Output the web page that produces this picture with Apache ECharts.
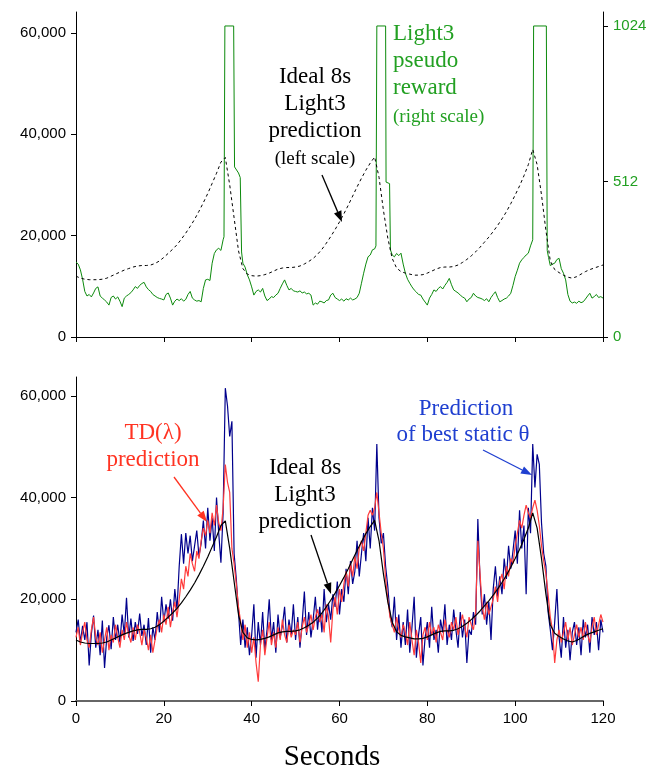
<!DOCTYPE html>
<html>
<head>
<meta charset="utf-8">
<script src="https://cdn.jsdelivr.net/npm/echarts@6.0.0/dist/echarts.min.js"></script>
<style>
  html, body { margin: 0; padding: 0; background: #fff; }
  #chart { width: 655px; height: 770px; }
</style>
</head>
<body>
<div id="chart"></div>
<script>
// values in thousands, one per second (0..120)
const idealK = [
  12.0, 11.6, 11.4, 11.3, 11.3, 11.3, 11.4, 11.6, 12.0, 12.4,
  12.8, 13.2, 13.5, 13.8, 14.0, 14.1, 14.1, 14.2, 14.5, 15.0,
  15.7, 16.5, 17.3, 18.2, 19.3, 20.5, 21.8, 23.2, 24.8, 26.5,
  28.3, 30.3, 32.3, 34.5, 35.4, 30.0, 23.5, 17.0, 13.5, 12.4,
  12.1, 12.0, 12.1, 12.3, 12.6, 13.0, 13.4, 13.6, 13.7, 13.7,
  13.8, 14.0, 14.4, 14.9, 15.5, 16.3, 17.3, 18.5, 19.8, 21.2,
  22.7, 24.3, 26.0, 27.8, 29.6, 31.3, 32.9, 34.3, 35.5, 31.5,
  25.0, 19.5, 15.5, 13.6, 12.9, 12.6, 12.4, 12.2, 12.2, 12.3,
  12.6, 13.0, 13.4, 13.7, 13.8, 13.8, 13.9, 14.2, 14.7, 15.3,
  16.0, 16.8, 17.7, 18.7, 19.7, 20.8, 22.0, 23.3, 24.7, 26.3,
  28.0, 29.8, 31.8, 34.0, 37.0, 34.0, 28.0, 21.0, 15.0, 13.3,
  12.7, 12.2, 11.8, 11.6, 11.9, 12.4, 12.9, 13.3, 13.6, 13.9,
  14.2
];

// values in thousands, every 0.5 s (0..120)
const sampleStep = 0.5;
const bestStaticK = [
  13.5, 16.0, 11.5, 14.8, 12.0, 15.5, 7.0, 13.2, 16.8, 10.5,
  14.0, 9.0, 15.8, 6.5, 12.5, 14.9, 10.2, 16.5, 12.0, 15.0,
  11.5, 17.0, 13.0, 20.3, 12.5, 16.2, 11.8, 15.5, 13.2, 17.2,
  12.8, 15.0, 11.0, 16.3, 9.5, 14.5, 12.0, 17.5, 13.5, 20.5,
  15.5, 19.0, 16.2, 20.0, 15.8, 22.0, 18.0, 26.5, 32.8, 27.0,
  33.0, 29.0, 32.5, 27.5, 30.5, 33.5, 28.5, 31.0, 35.5, 30.0,
  38.0, 31.5, 36.0, 29.5, 40.0, 33.0, 27.2, 37.0, 61.5, 58.0,
  52.0, 55.0, 29.0, 24.0, 17.5, 11.0, 16.0, 10.5, 14.5, 9.0,
  13.0, 19.0, 8.5, 15.5, 11.0, 17.5, 10.0, 14.0, 20.0, 12.0,
  15.5, 9.5, 17.0, 12.5, 14.8, 18.5, 11.5, 16.0, 13.0, 19.0,
  12.0, 16.5, 10.5, 15.5, 21.5, 13.0, 17.5, 12.5, 16.0, 20.5,
  14.0, 18.5, 13.5, 22.0, 15.5, 19.0, 16.0, 21.0, 18.5, 23.5,
  17.0, 22.0, 19.5, 26.0, 21.0, 27.5, 23.0, 25.5, 31.5, 24.5,
  29.0, 33.0, 27.5, 36.0, 30.0, 38.0, 33.5, 50.5, 36.0, 31.0,
  33.0, 26.5, 22.5, 17.0, 14.5, 20.5, 12.0, 17.0, 10.5, 15.5,
  11.0, 18.0, 9.5, 14.5, 20.5, 8.5, 13.0, 16.5, 7.0, 12.5,
  15.5, 10.5, 18.5, 12.0, 14.0, 9.5, 16.0, 13.5, 19.0, 11.0,
  15.0, 12.0, 18.0, 14.0, 10.5, 17.5, 12.5, 16.0, 7.5, 14.0,
  13.0, 17.5, 15.0, 35.8, 24.0, 17.0, 21.0, 15.0, 19.5, 12.0,
  22.0, 26.5, 20.5, 24.5, 21.0, 28.0, 24.0, 30.5, 26.0, 29.5,
  33.5, 27.0, 37.5, 30.0, 34.5, 21.0, 38.0, 33.0, 50.5, 42.0,
  48.5, 46.5, 35.0, 29.0, 26.5, 17.5, 14.0, 10.0, 15.5, 22.0,
  12.5, 8.5, 16.5, 10.5, 14.0, 8.0, 13.5, 15.5, 11.0, 14.5,
  9.0, 16.0, 12.5, 15.0, 9.5, 16.5, 13.0, 15.5, 10.0, 16.0,
  13.5
];
const tdLambdaK = [
  12.5, 14.5, 11.0, 13.5, 15.5, 12.0, 10.5, 14.0, 16.5, 12.5,
  11.0, 13.5, 9.5, 12.0, 14.5, 10.0, 13.0, 11.5, 15.0, 12.5,
  10.5, 14.0, 12.0, 15.5, 13.0, 11.5, 14.5, 12.0, 15.0, 13.5,
  11.0, 14.0, 12.5, 10.0, 13.0, 9.5, 12.0, 14.5, 16.0, 13.5,
  17.0, 15.0, 18.5, 14.5, 17.5, 19.5, 16.5, 20.0, 24.0, 22.0,
  26.5, 24.5, 29.0, 27.0, 25.5, 29.5, 28.0, 31.5, 34.0, 32.5,
  35.5, 33.0, 37.0, 34.5, 38.5, 35.0, 33.5, 38.0, 46.5, 43.0,
  41.0, 30.0, 27.0, 23.0, 18.5, 15.5, 12.0, 15.0, 10.5, 13.5,
  9.5, 12.5, 7.5, 3.8, 11.0, 14.0, 9.0, 12.5, 15.5, 11.0,
  13.5, 10.5, 14.5, 12.0, 16.0, 13.0, 11.5, 15.0, 12.5, 14.0,
  13.0, 15.5, 11.5, 14.5, 16.5, 13.5, 15.0, 17.0, 14.0, 16.5,
  18.0, 15.5, 17.0, 13.5, 19.0, 16.5, 11.5, 18.0, 20.5, 17.0,
  22.0, 19.5, 23.0, 25.5, 22.5, 27.0, 24.5, 28.5, 26.0, 30.0,
  31.5, 29.5, 33.0, 36.5, 37.5, 36.5, 38.0, 41.0, 37.0, 33.0,
  30.0, 24.0, 20.0, 16.5, 15.0, 13.5, 16.5, 14.0, 12.5, 15.0,
  13.5, 11.0, 15.5, 12.0, 9.0, 14.0, 11.5, 7.5, 13.0, 14.5,
  12.0, 15.5, 13.0, 14.5, 11.5, 15.0, 13.5, 12.0, 16.0, 14.0,
  12.5, 15.5, 14.0, 16.5, 13.0, 15.0, 17.0, 14.5, 12.5, 16.5,
  15.0, 14.0, 17.5, 31.5, 25.0, 18.5, 16.0, 19.5, 17.0, 18.5,
  20.0, 22.5, 19.5, 23.5, 25.0, 22.0, 26.5, 24.5, 28.0, 27.0,
  30.5, 33.0, 35.5, 34.0, 36.5, 38.5, 37.0, 36.0, 38.0, 39.5,
  37.5, 34.5, 30.5, 27.5, 25.0, 21.0, 16.5, 14.0, 7.5, 12.0,
  14.0, 11.5, 13.5, 15.5, 12.0, 14.5, 11.0, 13.0, 15.0, 12.5,
  14.5, 12.0, 15.5, 13.0, 11.5, 14.5, 16.5, 13.0, 15.0, 17.0,
  15.5
];

// pseudo reward, [seconds, value on right scale]
const pseudoReward = [
  [0,247],[0.5,240],[1,221],[1.5,190],[2,150],[2.5,135],[3,140],[3.5,132],[4,145],[4.5,160],
  [5,165],[5.5,135],[6,128],[6.5,122],[7,115],[7.5,105],[8,130],[8.5,135],[9,125],[9.5,132],
  [10,118],[10.5,100],[11,128],[11.5,135],[12,140],[12.5,146],[13,155],[13.5,166],[14,160],[14.5,170],
  [15,176],[15.5,180],[16,165],[16.5,156],[17,150],[17.5,140],[18,135],[18.5,130],[19,127],[19.5,125],
  [20,122],[20.5,140],[21,145],[21.5,128],[22,105],[22.5,118],[23,125],[23.5,120],[24,126],[24.5,118],
  [25,124],[25.5,140],[26,150],[26.5,128],[27,122],[27.5,118],[28,120],[28.5,116],[29,160],[29.5,188],
  [30,190],[30.5,186],[31,243],[31.5,275],[32,287],[32.5,292],[33,285],[33.5,320],[33.7,330],[33.9,1024],
  [35.9,1024],[36.1,560],[37,540],[37.4,525],[37.7,280],[38,243],[38.5,230],[39,205],[39.5,188],[40,165],
  [40.5,138],[41,150],[41.5,155],[42,148],[42.5,160],[43,135],[43.5,120],[44,125],[44.5,133],[45,130],
  [45.5,138],[46,144],[46.5,160],[47,175],[47.5,188],[48,170],[48.5,155],[49,160],[49.5,152],[50,150],
  [50.5,148],[51,152],[51.5,145],[52,148],[52.5,142],[53,144],[53.5,138],[54,105],[54.5,112],[55,108],
  [55.5,118],[56,116],[56.5,112],[57,120],[57.5,122],[58,138],[58.5,144],[59,130],[59.5,125],[60,120],
  [60.5,125],[61,118],[61.5,126],[62,122],[62.5,128],[63,122],[63.5,125],[64,130],[64.5,144],[65,177],
  [65.5,210],[66,240],[66.5,264],[67,270],[67.5,287],[68,290],[68.3,300],[68.5,1024],[70.5,1024],[70.6,510],
  [71.4,505],[71.6,287],[72,270],[72.5,264],[73,275],[73.5,268],[74,276],[74.5,240],[75,210],[75.5,190],
  [76,177],[76.5,165],[77,155],[77.5,148],[78,140],[78.5,138],[79,125],[79.5,115],[80,105],[80.5,128],
  [81,140],[81.5,155],[82,150],[82.5,160],[83,166],[83.5,158],[84,170],[84.5,180],[85,193],[85.5,172],
  [86,155],[86.5,150],[87,145],[87.5,138],[88,132],[88.5,128],[89,116],[89.5,125],[90,130],[90.5,144],
  [91,135],[91.5,130],[92,128],[92.5,125],[93,120],[93.5,126],[94,116],[94.5,130],[95,140],[95.5,149],
  [96,130],[96.5,116],[97,120],[97.5,125],[98,128],[98.5,135],[99,144],[99.5,170],[100,199],[100.5,220],
  [101,243],[101.5,254],[102,262],[102.5,270],[103,276],[103.5,300],[104,320],[104.2,1024],[107.1,1024],[107.3,285],
  [107.6,262],[108,235],[108.5,240],[109,243],[109.5,255],[110,259],[110.5,225],[111,210],[111.5,188],[112,140],
  [112.5,118],[113,112],[113.5,115],[114,111],[114.5,118],[115,113],[115.5,116],[116,125],[116.5,135],[117,144],
  [117.5,128],[118,133],[118.5,140],[119,130],[119.5,133],[120,128]
];

const leftTicksK = [0, 20, 40, 60];
const rightTicks = [0, 512, 1024];

const chart = echarts.init(document.getElementById('chart'), null, { renderer: 'canvas' });

const SANS = 'Liberation Sans, Arial, sans-serif';
const SERIF = 'Liberation Serif, Times New Roman, serif';
const GREEN = '#0c8a0c';
const GREEN_TXT = '#22a022';
const NAVY = '#00008c';
const RED = '#ff3b3b';
const BLUE_TXT = '#1f3fd0';

const perSec = arr => arr.map((v, i) => [i, v]);
const perStep = arr => arr.map((v, i) => [i * sampleStep, v]);
const fmtK = v => (v * 1000).toLocaleString('en-US');

function label(text, x, y, size, color, align) {
  return {
    type: 'text', silent: true,
    style: { text: text, x: x, y: y, font: size + 'px ' + SERIF, fill: color, align: align || 'center', verticalAlign: 'middle' }
  };
}

function arrow(x1, y1, x2, y2, color) {
  const a = Math.atan2(y2 - y1, x2 - x1);
  const len = 11, half = 4;
  const bx = x2 - len * Math.cos(a), by = y2 - len * Math.sin(a);
  return {
    type: 'group', silent: true,
    children: [
      { type: 'line', shape: { x1: x1, y1: y1, x2: bx, y2: by }, style: { stroke: color, lineWidth: 1.3 } },
      { type: 'polygon', shape: { points: [
          [x2, y2],
          [bx + half * Math.sin(a), by - half * Math.cos(a)],
          [bx - half * Math.sin(a), by + half * Math.cos(a)]
        ] }, style: { fill: color } }
    ]
  };
}

const xBase = {
  type: 'value', min: 0, max: 120, interval: 20,
  axisTick: { length: 5, lineStyle: { color: '#000' } },
  splitLine: { show: false }
};

const option = {
  animation: false,
  backgroundColor: '#fff',
  grid: [
    { left: 76, right: 52, top: 12, height: 325 },
    { left: 76, right: 52, top: 377, height: 324 }
  ],
  xAxis: [
    Object.assign({}, xBase, {
      gridIndex: 0,
      axisLine: { lineStyle: { color: '#000', width: 1 } },
      axisLabel: { show: false }
    }),
    Object.assign({}, xBase, {
      gridIndex: 1,
      axisLine: { lineStyle: { color: '#666', width: 2 } },
      axisLabel: { fontSize: 15, fontFamily: SANS, color: '#000', margin: 10 }
    })
  ],
  yAxis: [
    {
      gridIndex: 0, type: 'value', position: 'left', min: 0, max: 64.1,
      axisLine: { show: true, lineStyle: { color: '#000' } },
      axisTick: { show: true, length: 5, customValues: leftTicksK, lineStyle: { color: '#000' } },
      axisLabel: { customValues: leftTicksK, formatter: fmtK, fontSize: 15, fontFamily: SANS, color: '#000', margin: 10 },
      splitLine: { show: false }
    },
    {
      gridIndex: 0, type: 'value', position: 'right', min: 0, max: 1070,
      axisLine: { show: true, lineStyle: { color: '#000' } },
      axisTick: { show: true, length: 5, customValues: rightTicks, lineStyle: { color: '#000' } },
      axisLabel: { customValues: rightTicks, formatter: v => String(v), fontSize: 15, fontFamily: SANS, color: GREEN_TXT, margin: 10 },
      splitLine: { show: false }
    },
    {
      gridIndex: 1, type: 'value', position: 'left', min: 0, max: 63.7,
      axisLine: { show: true, lineStyle: { color: '#000' } },
      axisTick: { show: true, length: 5, customValues: leftTicksK, lineStyle: { color: '#000' } },
      axisLabel: { customValues: leftTicksK, formatter: fmtK, fontSize: 15, fontFamily: SANS, color: '#000', margin: 10 },
      splitLine: { show: false }
    }
  ],
  series: [
    {
      name: 'Light3 pseudo reward', type: 'line', xAxisIndex: 0, yAxisIndex: 1,
      data: pseudoReward, showSymbol: false, symbol: 'none',
      lineStyle: { color: GREEN, width: 1 }
    },
    {
      name: 'Ideal 8s (top)', type: 'line', xAxisIndex: 0, yAxisIndex: 0,
      data: perSec(idealK), showSymbol: false, symbol: 'none',
      lineStyle: { color: '#000', width: 1, type: [3, 3] }
    },
    {
      name: 'Best static theta', type: 'line', xAxisIndex: 1, yAxisIndex: 2,
      data: perStep(bestStaticK), showSymbol: false, symbol: 'none',
      lineStyle: { color: NAVY, width: 1.2 }
    },
    {
      name: 'TD(lambda)', type: 'line', xAxisIndex: 1, yAxisIndex: 2,
      data: perStep(tdLambdaK), showSymbol: false, symbol: 'none',
      lineStyle: { color: RED, width: 1.2 }
    },
    {
      name: 'Ideal 8s (bottom)', type: 'line', xAxisIndex: 1, yAxisIndex: 2,
      data: perSec(idealK), showSymbol: false, symbol: 'none',
      lineStyle: { color: '#000', width: 1.2 }
    }
  ],
  graphic: [
    // top panel notes
    label('Ideal 8s', 315, 77, 23, '#000'),
    label('Light3', 315, 104, 23, '#000'),
    label('prediction', 315, 131, 23, '#000'),
    label('(left scale)', 315, 159, 19, '#000'),
    arrow(322, 175, 342, 222, '#000'),
    label('Light3', 393, 34, 23, GREEN_TXT, 'left'),
    label('pseudo', 393, 61, 23, GREEN_TXT, 'left'),
    label('reward', 393, 88, 23, GREEN_TXT, 'left'),
    label('(right scale)', 393, 117, 19, GREEN_TXT, 'left'),
    // bottom panel notes
    label('TD(\u03bb)', 153, 433, 23, '#ff3322'),
    label('prediction', 153, 460, 23, '#ff3322'),
    arrow(174, 477, 207, 522, '#ff3322'),
    label('Ideal 8s', 305, 468, 23, '#000'),
    label('Light3', 305, 495, 23, '#000'),
    label('prediction', 305, 522, 23, '#000'),
    arrow(311, 535, 331, 594, '#000'),
    label('Prediction', 466, 409, 23, BLUE_TXT),
    label('of best static \u03b8', 463, 435, 23, BLUE_TXT),
    arrow(483, 450, 532, 475, BLUE_TXT),
    label('Seconds', 332, 757, 29, '#000')
  ]
};

chart.setOption(option);
</script>
</body>
</html>
